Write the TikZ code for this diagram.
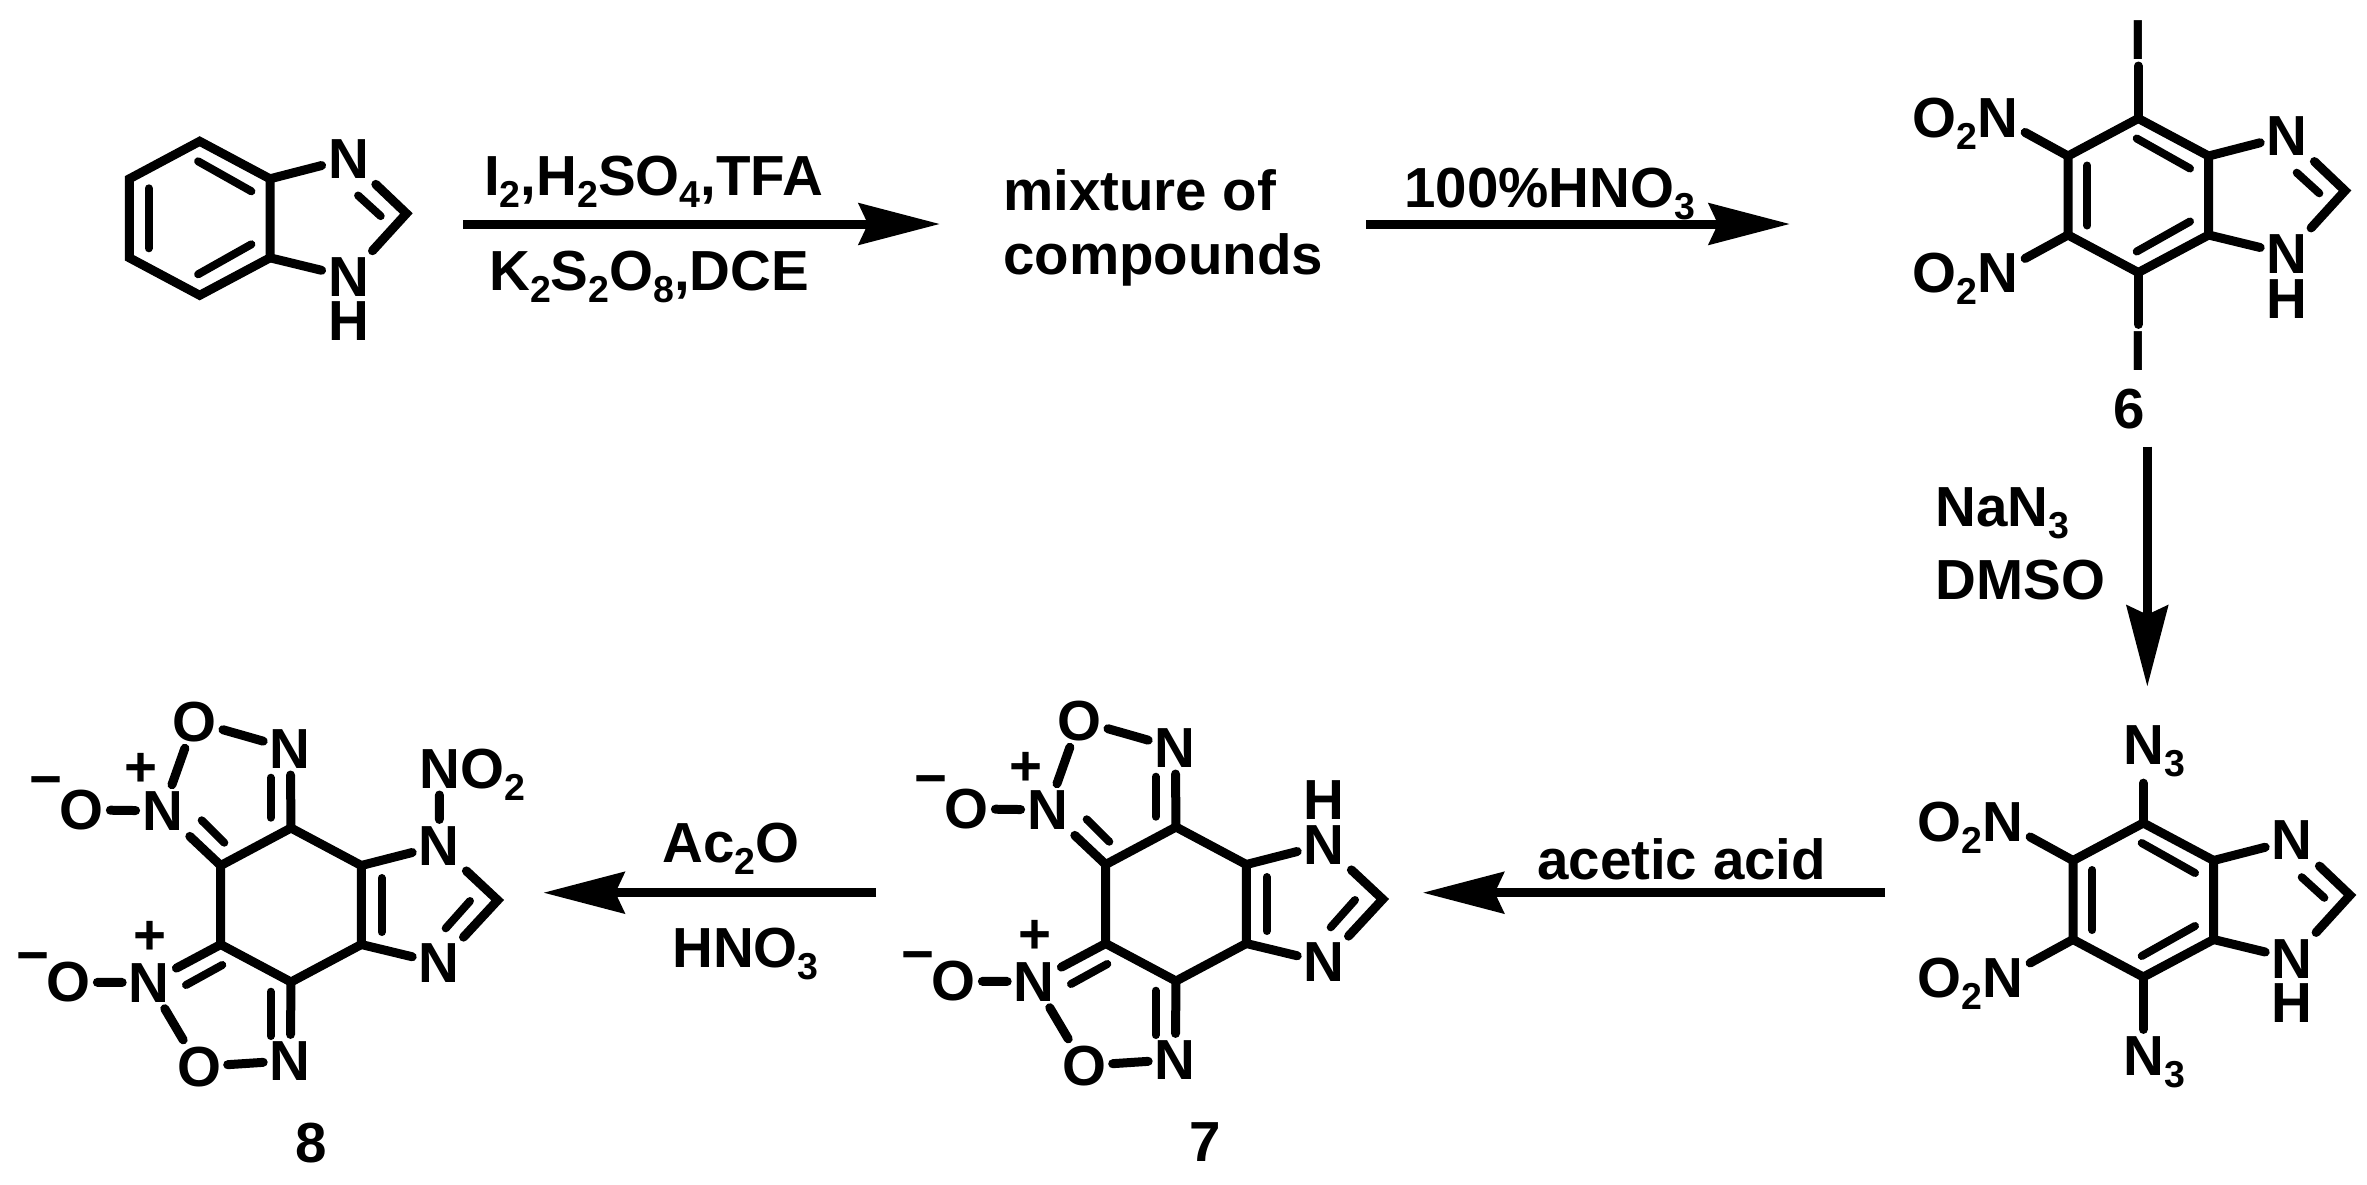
\documentclass[tikz,border=0pt]{standalone}
\usepackage{fontspec}
\setmainfont{Liberation Sans}
\usetikzlibrary{arrows.meta}
\newcommand{\chemfont}{\fontsize{56.5}{62}\selectfont\bfseries}
\newcommand{\chemsub}[1]{\raisebox{-12pt}{\fontsize{37.5}{38}\selectfont #1}}
\tikzset{
  bond/.style={line width=9pt,line cap=round,line join=miter,black},
  ringbond/.style={line width=9pt,line join=miter,black},
  innerbond/.style={line width=8pt,line cap=round,black},
  atom/.style={inner sep=6.5pt,anchor=base,font=\chemfont},
  lab/.style={inner sep=0pt,anchor=base west,font=\chemfont},
  chg/.style={inner sep=0pt,anchor=center,font=\chemfont},
  rxn/.style={line width=9pt,-{Stealth[length=81pt,width=41pt,inset=9pt]},black}
}
\newcommand{\innerb}[3]{\coordinate (#1a) at (#2); \coordinate (#1b) at (#3); \draw[innerbond] (#1a) -- (#1b);}
% fused six-membered ring vertices and imidazole tip
\newcommand{\ringpts}[1]{%
  \coordinate (#1T) at (0,-77); \coordinate (#1UR) at (70.3,-39.5); \coordinate (#1LR) at (70.3,39.5);
  \coordinate (#1B) at (0,77); \coordinate (#1LL) at (-70.3,39.5); \coordinate (#1UL) at (-70.3,-39.5);
  \coordinate (#1tip) at (206.7,-4.8);
  \draw[ringbond] (#1T)--(#1UR)--(#1LR)--(#1B)--(#1LL)--(#1UL)--cycle;
}
% aromatic benzimidazole core (1H)
\newcommand{\arcore}[3]{%
\begin{scope}[shift={(#2,#3)}]
  \ringpts{#1}
  \innerb{#1il}{-51,-30}{-51,30}
  \innerb{#1it}{-1.6,-57}{51.7,-27}
  \innerb{#1ib}{-1.6,56}{51.7,26}
  \node[atom] (#1Nu) at (149,-40.3) {N};
  \node[atom] (#1Nd) at (149,78) {N};
  \node[atom] (#1Hd) at (149,122.5) {H};
  \draw[bond] (#1UR) -- (#1Nu);
  \draw[bond] (#1LR) -- (#1Nd);
  \draw[bond] (#1Nu) -- (#1tip) -- (#1Nd);
  \innerb{#1id}{158.4,-22.8}{181,-2.2}
\end{scope}}
% dinitro substituents on the aromatic core
\newcommand{\dinitro}[3]{%
\begin{scope}[shift={(#2,#3)}]
  \node[atom] (#1Na) at (-140.3,-58.5) {N};
  \node[lab,anchor=base east] (#1Oa) at ([xshift=6.5pt]#1Na.base west) {O\chemsub{2}};
  \node[atom] (#1Nb) at (-140.3,97.2) {N};
  \node[lab,anchor=base east] (#1Ob) at ([xshift=6.5pt]#1Nb.base west) {O\chemsub{2}};
  \draw[bond] (#1UL) -- (#1Na);
  \draw[bond] (#1LL) -- (#1Nb);
\end{scope}}
% bis-furoxan quinoid core
\newcommand{\furcore}[3]{%
\begin{scope}[shift={(#2,#3)}]
  \ringpts{#1}
  \innerb{#1ir}{90.7,-27}{90.7,27}
  \node[atom] (#1Nu) at (148.3,-40) {N};
  \node[atom] (#1Nd) at (148.3,77.7) {N};
  \draw[bond] (#1UR) -- (#1Nu);
  \draw[bond] (#1LR) -- (#1Nd);
  \draw[bond] (#1Nu) -- (#1tip) -- (#1Nd);
  \innerb{#1id}{179,-4}{154.7,23.3}
  % upper furoxan
  \node[atom] (#1Np) at (-128.3,-74.7) {N};
  \node[chg] (#1pa) at (-150,-134.7) {+};
  \node[atom] (#1Om) at (-209.3,-75.7) {O};
  \node[chg] (#1ma) at (-245,-117.3) {−};
  \node[atom] (#1Oa) at (-96.7,-164) {O};
  \node[atom] (#1Na) at (-0.7,-136.7) {N};
  \draw[bond] (#1Om) -- (#1Np);
  \draw[bond] (#1Np) -- (#1Oa);
  \draw[bond] (#1Oa) -- (#1Na);
  \draw[bond] (#1T) -- (#1Na);
  \innerb{#1iv}{-20.3,-127.3}{-20.3,-87.3}
  \draw[bond] (#1UL) -- (#1Np);
  \innerb{#1iu}{-89.3,-84.7}{-66.7,-62.3}
  % lower furoxan
  \node[atom] (#1Nq) at (-141.7,97) {N};
  \node[chg] (#1pb) at (-141,33.3) {+};
  \node[atom] (#1On) at (-222.3,96.7) {O};
  \node[chg] (#1mb) at (-258.3,58.7) {−};
  \node[atom] (#1Ob) at (-92,181) {O};
  \node[atom] (#1Nb) at (-0.7,175) {N};
  \draw[bond] (#1On) -- (#1Nq);
  \draw[bond] (#1Nq) -- (#1Ob);
  \draw[bond] (#1Ob) -- (#1Nb);
  \draw[bond] (#1B) -- (#1Nb);
  \innerb{#1iw}{-20.3,86.7}{-20.3,131}
  \draw[bond] (#1LL) -- (#1Nq);
  \innerb{#1ix}{-105,80}{-68.7,60}
\end{scope}}
\begin{document}
\begin{tikzpicture}[x=1pt,y=-1pt]
\useasboundingbox (0,0) rectangle (2367,1184);
% benzimidazole
\arcore{a}{199.7}{218.3}
% compound 6
\arcore{f}{2138.3}{195.5}
\dinitro{f}{2138.3}{195.5}
\node[atom] (fIt) at (2138,59.3) {I};
\node[atom] (fIb) at (2138,370) {I};
\draw[bond] (fT) -- (fT |- fIt.south);
\draw[bond] (fB) -- (fB |- fIb.north);
\node[lab,anchor=base] (six) at (2129.3,428.3) {6};
% azide
\arcore{z}{2143.3}{900}
\dinitro{z}{2143.3}{900}
\node[atom,anchor=base west] (zNt) at (2117,764) {N\chemsub{3}};
\node[atom,anchor=base west] (zNb) at (2117,1075) {N\chemsub{3}};
\draw[bond] (zT) -- (zT |- zNt.south);
\draw[bond] (zB) -- (zB |- zNb.north);
% compound 7
\furcore{s}{1176}{904}
\node[atom] (sH) at (1324.3,819.3) {H};
\node[lab,anchor=base] (seven) at (1205,1161.7) {7};
% compound 8
\furcore{e}{291}{905}
\node[atom] (eNo) at (439.5,788.3) {N};
\node[lab] (eO) at ([xshift=-6.5pt]eNo.base east) {O\chemsub{2}};
\draw[bond] (eNo) -- (eNu);
\node[lab,anchor=base] (eight) at (311,1162.3) {8};
% reaction arrows
\coordinate (r1a) at (463,224); \coordinate (r1b) at (940,224);
\coordinate (r2a) at (1366,224); \coordinate (r2b) at (1790,224);
\coordinate (r3a) at (2147.3,446.7); \coordinate (r3b) at (2147.3,686.7);
\coordinate (r4a) at (1885,892.7); \coordinate (r4b) at (1422.7,892.7);
\coordinate (r5a) at (876,892.7); \coordinate (r5b) at (543.3,892.7);
\draw[rxn] (r1a) -- (r1b);
\draw[rxn] (r2a) -- (r2b);
\draw[rxn] (r3a) -- (r3b);
\draw[rxn] (r4a) -- (r4b);
\draw[rxn] (r5a) -- (r5b);
% reagents
\node[lab] (t1) at (484,195) {I\chemsub{2},H\chemsub{2}SO\chemsub{4},TFA};
\node[lab] (t2) at (489,290.7) {K\chemsub{2}S\chemsub{2}O\chemsub{8},DCE};
\node[lab] (t3) at (1003,210) {mixture of};
\node[lab] (t4) at (1003,274) {compounds};
\node[lab] (t5) at (1404,207.3) {100\%HNO\chemsub{3}};
\node[lab] (t6) at (1935.5,526.7) {NaN\chemsub{3}};
\node[lab] (t7) at (1935.5,599.3) {DMSO};
\node[lab] (t8) at (1537,879.3) {acetic acid};
\node[lab] (t9) at (662,862.3) {Ac\chemsub{2}O};
\node[lab] (t10) at (672,967.7) {HNO\chemsub{3}};
\end{tikzpicture}
\end{document}
